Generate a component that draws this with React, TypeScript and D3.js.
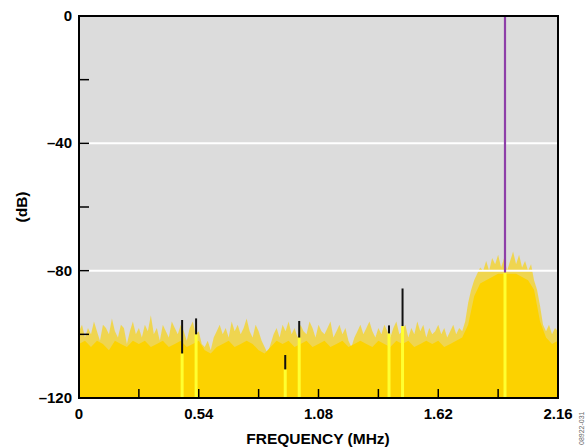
import React from "react";
import * as d3 from "d3";

// Fine envelope (spike tips), dB, bins of 0.0135 MHz from 0 to 2.16 MHz
const envelopeDb: number[] = [
  -99, -97, -101, -98, -100, -96, -99, -102, -97, -98, -100, -95, -99, -101, -97, -98, -103, -99, -96, -100,
  -98, -101, -97, -99, -94, -100, -98, -102, -97, -99, -101, -96, -98, -100, -97, -99, -102, -98, -96, -100,
  -99, -103, -104, -102, -105, -101, -99, -97, -100, -98, -101, -96, -99, -97, -100, -98, -95, -99, -101, -97,
  -99, -102, -104, -106, -103, -100, -98, -101, -97, -99, -96, -100, -98, -101, -97, -99, -100, -96, -98, -101,
  -97, -99, -100, -98, -96, -101, -99, -97, -100, -98, -102, -104, -101, -99, -97, -100, -98, -96, -99, -101,
  -98, -100, -97, -99, -101, -98, -96, -100, -99, -97, -101, -98, -100, -96, -99, -97, -101, -98, -100, -99,
  -97, -100, -98, -101, -99, -97, -100, -98, -99,
  -96, -90, -86, -83, -81, -79, -80, -77, -80, -76, -78, -75, -79, -76, -80, -77, -74, -78, -75, -79,
  -77, -80, -78, -83, -86, -91, -97, -99, -97, -100, -98, -99,
];
const envelopeStep = 0.0135;

// Solid body of the spectrum, dB, bins of 0.027 MHz
const bodyDb: number[] = [
  -103, -102, -104, -102, -103, -105, -102, -103, -104, -102,
  -103, -102, -104, -103, -102, -104, -103, -102, -104, -103,
  -102, -105, -106, -104, -103, -102, -104, -103, -102, -103,
  -105, -106, -104, -102, -103, -102, -104, -103, -102, -104,
  -103, -102, -104, -103, -102, -104, -103, -102, -103, -104,
  -102, -103, -104, -102, -103, -102, -104, -103, -102, -103,
  -102, -104, -103, -102,
  -101, -97, -88, -84, -83, -82, -81, -81, -81, -81, -82, -83, -86, -96, -101, -103, -102,
];
const bodyStep = 0.027;

// Spurs: frequency (MHz), top (dB), local floor (dB)
const spurFreq = [0.465, 0.528, 0.93, 0.993, 1.398, 1.459];
const spurTop = [-95.5, -95, -106.5, -95.8, -97.2, -85.6];
const spurBase = [-106, -100, -111, -101, -99.7, -97.4];

// Carrier
const carrierFreq = 1.921;
const carrierTop = 0;
const carrierBase = -80.6;

const xTicks = [0, 0.27, 0.54, 0.81, 1.08, 1.35, 1.62, 1.89, 2.16];
const xLabels = ["0", "0.54", "1.08", "1.62", "2.16"];
const xLabelVals = [0, 0.54, 1.08, 1.62, 2.16];
const yTicks = [0, -20, -40, -60, -80, -100, -120];
const yLabelVals = [0, -40, -80, -120];
const yLabels = ["0", "\u201340", "\u201380", "\u2013120"];
const gridVals = [-40, -80];

const W = 587;
const H = 447;
const L = 79;
const R = 558;
const T = 16;
const B = 398;

export default function App() {
  const x = d3.scaleLinear().domain([0, 2.16]).range([L, R]);
  const y = d3.scaleLinear().domain([-120, 0]).range([B, T]);

  const envPts = envelopeDb.map((v, i) => [Math.min(i * envelopeStep, 2.16), v] as [number, number]);
  const bodyPts = bodyDb.map((v, i) => [Math.min(i * bodyStep, 2.16), v] as [number, number]);

  const envArea = d3
    .area<[number, number]>()
    .x((d) => x(d[0]))
    .y0(B)
    .y1((d) => y(d[1]))
    .curve(d3.curveLinear)(envPts) as string;
  const bodyArea = d3
    .area<[number, number]>()
    .x((d) => x(d[0]))
    .y0(B)
    .y1((d) => y(d[1]))
    .curve(d3.curveLinear)(bodyPts) as string;

  const font = "'Liberation Sans', Arial, sans-serif";

  return (
    <svg
      width={W}
      height={H}
      style={{ position: "fixed", left: 0, top: 0, display: "block", background: "#fff" }}
    >
      <defs>
        <clipPath id="plot">
          <rect x={L} y={T} width={R - L} height={B - T} />
        </clipPath>
      </defs>
      <rect x={L} y={T} width={R - L} height={B - T} fill="#dcdcdc" />
      <g clipPath="url(#plot)">
        <path d={envArea} fill="#f7d21a" opacity={0.72} />
        <path d={bodyArea} fill="#fcd200" />
        {spurFreq.map((f, i) => (
          <line
            key={"sy" + i}
            x1={x(f)}
            x2={x(f)}
            y1={y(spurBase[i])}
            y2={B}
            stroke="#ffff30"
            strokeWidth={3}
          />
        ))}
        <line
          x1={x(carrierFreq)}
          x2={x(carrierFreq)}
          y1={y(carrierBase)}
          y2={B}
          stroke="#ffff30"
          strokeWidth={3}
        />
        {gridVals.map((g) => (
          <line key={"g" + g} x1={L} x2={R} y1={y(g)} y2={y(g)} stroke="#fff" strokeWidth={2} />
        ))}
        {spurFreq.map((f, i) => (
          <line
            key={"sb" + i}
            x1={x(f)}
            x2={x(f)}
            y1={y(spurTop[i])}
            y2={y(spurBase[i])}
            stroke="#111"
            strokeWidth={2}
          />
        ))}
        <line
          x1={x(carrierFreq)}
          x2={x(carrierFreq)}
          y1={y(carrierTop)}
          y2={y(carrierBase)}
          stroke="#8e3fa8"
          strokeWidth={2.2}
        />
      </g>
      {xTicks.map((t) => (
        <line key={"xt" + t} x1={x(t)} x2={x(t)} y1={B} y2={B - 9} stroke="#000" strokeWidth={1.5} />
      ))}
      {yTicks.map((t) => (
        <line key={"yt" + t} x1={L} x2={L + 10} y1={y(t)} y2={y(t)} stroke="#000" strokeWidth={1.5} />
      ))}
      <rect x={L} y={T} width={R - L} height={B - T} fill="none" stroke="#000" strokeWidth={2} />
      {xLabelVals.map((v, i) => (
        <text
          key={"xl" + i}
          x={x(v)}
          y={419}
          textAnchor="middle"
          fontFamily={font}
          fontWeight="bold"
          fontSize={15}
        >
          {xLabels[i]}
        </text>
      ))}
      {yLabelVals.map((v, i) => (
        <text
          key={"yl" + i}
          x={72}
          y={y(v) + 5}
          textAnchor="end"
          fontFamily={font}
          fontWeight="bold"
          fontSize={15}
        >
          {yLabels[i]}
        </text>
      ))}
      <text
        x={318}
        y={444}
        textAnchor="middle"
        fontFamily={font}
        fontWeight="bold"
        fontSize={15.5}
      >
        FREQUENCY (MHz)
      </text>
      <text
        transform={`translate(27,207) rotate(-90)`}
        textAnchor="middle"
        fontFamily={font}
        fontWeight="bold"
        fontSize={15.5}
      >
        (dB)
      </text>
      <text
        transform={`translate(584,445) rotate(-90)`}
        textAnchor="start"
        fontFamily={font}
        fontSize={7}
        fill="#666"
      >
        08922-031
      </text>
    </svg>
  );
}
